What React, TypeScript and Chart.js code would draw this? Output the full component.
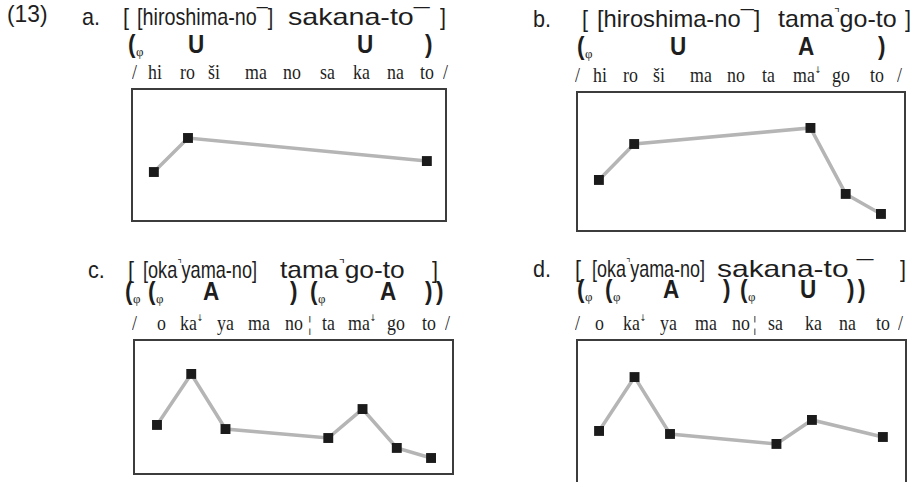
import React, { useEffect, useLayoutEffect, useRef } from "react";
import { Chart, registerables } from "chart.js";

Chart.register(...registerables);

// ---------- data (syllable index -> F0, arbitrary units 0..100) ----------
const sylA = ["hi", "ro", "ši", "ma", "no", "sa", "ka", "na", "to"];
const sylB = ["hi", "ro", "ši", "ma", "no", "ta", "ma↓", "go", "to"];
const sylC = ["o", "ka↓", "ya", "ma", "no", "ta", "ma↓", "go", "to"];
const sylD = ["o", "ka↓", "ya", "ma", "no", "sa", "ka", "na", "to"];

const idxA = [0, 1, 8];
const f0A = [37.3, 62.7, 45.5];

const idxB = [0, 1, 6, 7, 8];
const f0B = [36.9, 62.4, 73.8, 27.0, 12.8];

const idxC = [0, 1, 2, 5, 6, 7, 8];
const f0C = [36.8, 74.3, 33.8, 27.2, 48.5, 19.9, 12.5];

const idxD = [0, 1, 2, 5, 6, 8];
const f0D = [39.1, 74.8, 37.1, 30.5, 46.4, 35.1];

const headA = ["a.", "[", "[hiroshima-no¯]", "sakana-to¯", "]"];
const headB = ["b.", "[", "[hiroshima-no¯]", "tama⌝go-to", "]"];
const headC = ["c.", "[", "[oka⌝yama-no]", "tama⌝go-to", "]"];
const headD = ["d.", "[", "[oka⌝yama-no]", "sakana-to ¯", "]"];

const prosA = ["(φ", "U", "U", ")"];
const prosB = ["(φ", "U", "A", ")"];
const prosC = ["(φ", "(φ", "A", ")", "(φ", "A", ")", ")"];
const prosD = ["(φ", "(φ", "A", ")", "(φ", "U", ")", ")"];

// ---------- layout (pixels) ----------
// [left, right] extents of header pieces
const HEAD_X = {
  a: [[82, 100], [123, 129], [137, 273], [288, 430], [440, 446]],
  b: [[533, 552], [582, 588], [597, 760], [778, 897], [905, 911]],
  c: [[88, 104], [128, 134], [143, 257], [280, 405], [432, 438]],
  d: [[533, 551], [575, 581], [592, 705], [717, 873], [900, 906]],
};
const HEAD_B = { a: 25, b: 27, c: 278, d: 277 };
const PROS_X = {
  a: [128, 188, 357, 425],
  b: [577, 670, 798, 878],
  c: [125, 148, 203, 290, 310, 380, 425, 436],
  d: [577, 605, 663, 723, 740, 800, 847, 858],
};
const PROS_B = { a: 53, b: 55, c: 300, d: 298 };
const SYL_X = {
  a: [132, 148, 180, 208, 245, 283, 320, 353, 387, 420, 443],
  b: [575, 593, 623, 653, 690, 727, 762, 793, 832, 870, 897],
  c: [132, 157, 180, 217, 248, 285, 308, 322, 348, 387, 422, 445],
  d: [575, 595, 623, 660, 695, 732, 753, 768, 805, 839, 876, 898],
};
const SYL_B = { a: 80, b: 83, c: 331, d: 331 };
const BOX = {
  a: { left: 131, top: 88, width: 316, height: 134, xmin: -0.67, xmax: 8.59 },
  b: { left: 576, top: 91, width: 330, height: 141, xmin: -0.65, xmax: 8.71 },
  c: { left: 133, top: 339, width: 321, height: 136, xmin: -0.7, xmax: 8.67 },
  d: { left: 576, top: 339, width: 331, height: 151, xmin: -0.65, xmax: 8.68 },
};
const PT = 7; // point radius, also the layout inset Chart.js reserves

const SANS = "'Liberation Sans', Arial, Helvetica, sans-serif";
const SERIF = "'Liberation Serif', 'Times New Roman', serif";
const INK = "#1e1e1e";

const framePlugin = {
  id: "frame",
  afterDraw(chart: any) {
    const { ctx, chartArea: a } = chart;
    ctx.save();
    ctx.strokeStyle = "#3c3c3c";
    ctx.lineWidth = 2;
    ctx.strokeRect(a.left + 1, a.top + 1, a.right - a.left - 2, a.bottom - a.top - 2);
    ctx.restore();
  },
};

function Panel({ box, xs, ys }: any) {
  const ref = useRef<HTMLCanvasElement | null>(null);
  useEffect(() => {
    if (!ref.current) return;
    const chart = new Chart(ref.current, {
      type: "line",
      data: {
        datasets: [
          {
            data: xs.map((x: number, i: number) => ({ x, y: ys[i] })),
            borderColor: "#b5b5b5",
            borderWidth: 3.5,
            pointStyle: "rect",
            pointRadius: PT,
            pointBackgroundColor: "#1b1b1b",
            pointBorderWidth: 0,
            tension: 0,
          },
        ],
      },
      options: {
        animation: false,
        responsive: false,
        events: [],
        layout: { padding: 0 },
        plugins: { legend: { display: false }, tooltip: { enabled: false } },
        scales: {
          x: { type: "linear", display: false, min: box.xmin, max: box.xmax },
          y: { type: "linear", display: false, min: 0, max: 100 },
        },
      } as any,
      plugins: [framePlugin],
    });
    return () => chart.destroy();
  }, []);
  const w = box.width + 2 * PT;
  const h = box.height + 2 * PT;
  return (
    <canvas
      ref={ref}
      width={w}
      height={h}
      style={{ position: "absolute", left: box.left - PT, top: box.top - PT, width: w, height: h }}
    />
  );
}

function T({ x, b, s, fam, w, sx, fit, children }: any) {
  const ref = useRef<HTMLDivElement | null>(null);
  useLayoutEffect(() => {
    if (!fit || !ref.current) return;
    const el = ref.current;
    const apply = () => {
      const ow = el.offsetWidth;
      if (ow > 0) el.style.transform = `scaleX(${fit / ow})`;
    };
    apply();
    if ((document as any).fonts && (document as any).fonts.ready) (document as any).fonts.ready.then(apply);
  }, []);
  return (
    <div
      ref={ref}
      style={{
        position: "absolute",
        left: x,
        top: b - s * 0.845,
        fontSize: s,
        lineHeight: `${s}px`,
        fontFamily: fam,
        fontWeight: w || 400,
        whiteSpace: "pre",
        transform: `scaleX(${sx || 1})`,
        transformOrigin: "0 0",
        color: INK,
      }}
    >
      {children}
    </div>
  );
}

function headText(t: string) {
  const parts = t.split("⌝");
  if (parts.length === 1) return t;
  return (
    <>
      {parts[0]}
      <span style={{ fontFamily: "'DejaVu Sans', sans-serif", fontSize: "0.5em", position: "relative", top: "-0.85em" }}>⌝</span>
      {parts[1]}
    </>
  );
}

function sylText(t: string) {
  if (t.endsWith("↓")) {
    return (
      <>
        {t.slice(0, -1)}
        <span style={{ fontFamily: "'DejaVu Sans', sans-serif", fontSize: "0.45em", position: "relative", top: "-1.0em" }}>↓</span>
      </>
    );
  }
  return t;
}

function Labels({ k, head, pros, syl }: any) {
  const hx = (HEAD_X as any)[k];
  const px = (PROS_X as any)[k];
  const sxs = (SYL_X as any)[k];
  const hb = (HEAD_B as any)[k];
  const pb = (PROS_B as any)[k];
  const sb = (SYL_B as any)[k];
  const hasBreak = k === "c" || k === "d";
  const sylItems = ["/", ...syl.slice(0, 5), ...(hasBreak ? ["¦"] : []), ...syl.slice(5), "/"];
  return (
    <>
      {head.map((t: string, i: number) => (
        <T
          key={"h" + i}
          x={hx[i][0]}
          b={hb}
          s={24}
          fam={SANS}
          sx={0.9}
          fit={t.length > 2 ? hx[i][1] - hx[i][0] : undefined}
        >
          {headText(t)}
        </T>
      ))}
      {pros.map((t: string, i: number) =>
        t === "(φ" ? (
          <React.Fragment key={"p" + i}>
            <T x={px[i]} b={pb} s={25} fam={SANS} w={700} sx={0.9}>(</T>
            <T x={px[i] + 8} b={pb + 3} s={13} fam={SERIF} sx={1}>φ</T>
          </React.Fragment>
        ) : (
          <T key={"p" + i} x={px[i]} b={pb} s={25} fam={SANS} w={700} sx={0.9}>
            {t}
          </T>
        )
      )}
      {sylItems.map((t: string, i: number) => (
        <T key={"s" + i} x={sxs[i]} b={sb} s={21} fam={SERIF} sx={0.85}>
          {sylText(t)}
        </T>
      ))}
    </>
  );
}

export default function App() {
  return (
    <div
      style={{
        position: "absolute",
        left: 0,
        top: 0,
        width: 915,
        height: 482,
        overflow: "hidden",
        background: "#ffffff",
      }}
    >
      <T x={7} b={22} s={24} fam={SANS} sx={0.95}>(13)</T>
      <Labels k="a" head={headA} pros={prosA} syl={sylA} />
      <Labels k="b" head={headB} pros={prosB} syl={sylB} />
      <Labels k="c" head={headC} pros={prosC} syl={sylC} />
      <Labels k="d" head={headD} pros={prosD} syl={sylD} />
      <Panel box={BOX.a} xs={idxA} ys={f0A} />
      <Panel box={BOX.b} xs={idxB} ys={f0B} />
      <Panel box={BOX.c} xs={idxC} ys={f0C} />
      <Panel box={BOX.d} xs={idxD} ys={f0D} />
    </div>
  );
}
